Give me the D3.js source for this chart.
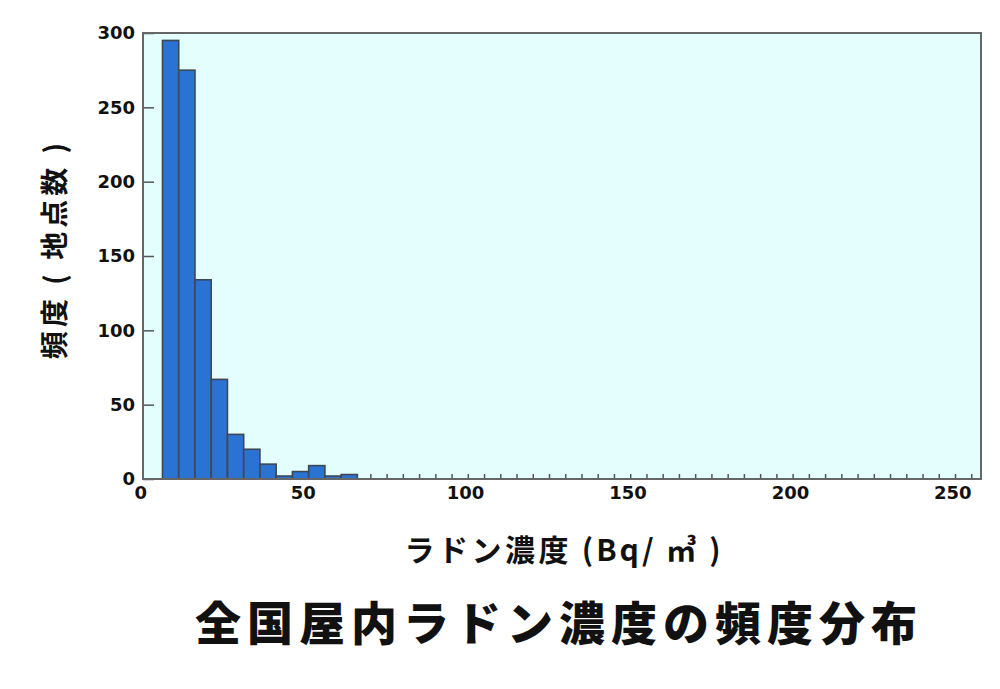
<!DOCTYPE html>
<html>
<head>
<meta charset="utf-8">
<script src="https://cdn.jsdelivr.net/npm/d3@7"></script>
<style>
  body { margin: 0; background: #fff; }
  .tick text { font-family: "DejaVu Sans", sans-serif; font-size: 18px; font-weight: bold; fill: #111; }
  .axis-title { font-family: "Noto Sans CJK JP", sans-serif; fill: #111; }
</style>
</head>
<body>
<div id="chart"></div>
<script>
// Histogram bins (lower edge, Bq/m3) and site counts
const binLow = [6, 11, 16, 21, 26, 31, 36, 41, 46, 51, 56, 61];
const binWidth = 5;
const counts = [295, 275, 134, 67, 30, 20, 10, 2, 5, 9, 2, 3];

const xTicks = [0, 50, 100, 150, 200, 250];
const xMinorTicks = [70, 75, 80, 85, 90, 95, 100, 105, 110, 115, 120, 125, 130, 135, 140, 145,
  150, 155, 160, 165, 170, 175, 180, 185, 190, 195, 200, 205, 210, 215, 220, 225, 230, 235,
  240, 245, 250, 255];
const yTicks = [0, 50, 100, 150, 200, 250, 300];

const width = 1000, height = 689;
const margin = {top: 33, right: 19, bottom: 210, left: 143};
const innerW = width - margin.left - margin.right;
const innerH = height - margin.top - margin.bottom;

const svg = d3.select('#chart').append('svg')
    .attr('width', width)
    .attr('height', height);

const chart = svg.append('g')
    .attr('transform', `translate(${margin.left},${margin.top})`);

const x = d3.scaleLinear().domain([0, 258]).range([0, innerW]);
const y = d3.scaleLinear().domain([0, 300]).range([innerH, 0]);

// plot background
chart.append('rect')
    .attr('width', innerW)
    .attr('height', innerH)
    .attr('fill', '#e4fefe');

// minor ticks along the bottom, pointing up
chart.append('g')
    .attr('transform', `translate(0,${innerH})`)
    .call(d3.axisBottom(x).tickValues(xMinorTicks).tickSize(-5).tickFormat(''))
    .call(g => g.select('.domain').remove())
    .call(g => g.selectAll('line').attr('stroke', '#555').attr('stroke-width', 1.5));

// bars
chart.selectAll('.bar')
    .data(binLow)
    .join('rect')
    .attr('class', 'bar')
    .attr('x', d => x(d))
    .attr('width', d => x(d + binWidth) - x(d))
    .attr('y', (d, i) => y(counts[i]))
    .attr('height', (d, i) => y(0) - y(counts[i]))
    .attr('fill', '#2a73d3')
    .attr('stroke', '#3e4755')
    .attr('stroke-width', 1.6);

// y axis with inward ticks
chart.append('g')
    .call(d3.axisLeft(y).tickValues(yTicks).tickSize(-11).tickPadding(8))
    .call(g => g.select('.domain').remove())
    .call(g => g.selectAll('line').attr('stroke', '#555').attr('stroke-width', 1.5))
    .call(g => g.selectAll('text').attr('text-anchor', 'end'));

// x axis labels
chart.append('g')
    .attr('transform', `translate(0,${innerH})`)
    .call(d3.axisBottom(x).tickValues(xTicks).tickSize(0).tickPadding(7))
    .call(g => g.select('.domain').remove())
    .call(g => g.selectAll('text').attr('dx', '-0.15em'));

// frame
chart.append('rect')
    .attr('width', innerW)
    .attr('height', innerH)
    .attr('fill', 'none')
    .attr('stroke', '#666')
    .attr('stroke-width', 2);

// axis titles
const xTitle = svg.append('text')
    .attr('class', 'axis-title')
    .attr('x', 564)
    .attr('y', 561)
    .attr('text-anchor', 'middle')
    .style('font-size', '30px')
    .style('font-weight', 700);
xTitle.append('tspan')
    .style('letter-spacing', '3.5px')
    .text('ラドン濃度');
xTitle.append('tspan')
    .style('letter-spacing', '3px')
    .text(' (Bq/ ㎥ )');

svg.append('text')
    .attr('class', 'axis-title')
    .attr('transform', 'translate(65,249) rotate(-90)')
    .attr('text-anchor', 'middle')
    .style('font-size', '28px')
    .style('font-weight', 700)
    .style('letter-spacing', '4px')
    .text('頻度 ( 地点数 )');

// chart title
svg.append('text')
    .attr('class', 'axis-title')
    .attr('x', 559)
    .attr('y', 640)
    .attr('text-anchor', 'middle')
    .style('font-size', '46px')
    .style('font-weight', 900)
    .style('letter-spacing', '6px')
    .text('全国屋内ラドン濃度の頻度分布');
</script>
</body>
</html>
